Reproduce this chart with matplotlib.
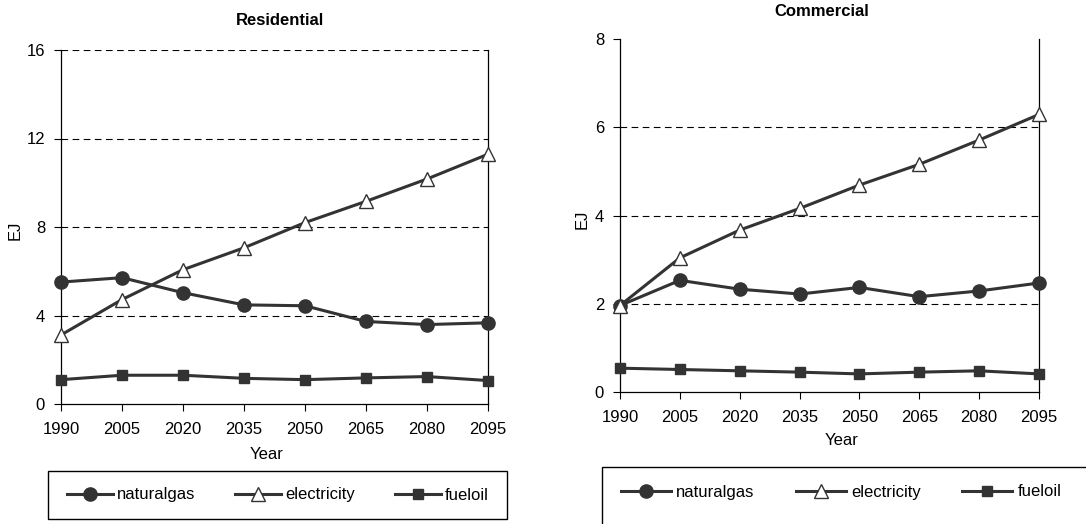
import numpy as np
import matplotlib
matplotlib.use('Agg')
import matplotlib.pyplot as plt
from matplotlib.patches import Rectangle

plt.rcParams['font.family'] = ['Liberation Sans', 'DejaVu Sans']

# data
years = [1990, 2005, 2020, 2035, 2050, 2065, 2080, 2095]

res_naturalgas = [5.51, 5.71, 5.03, 4.48, 4.44, 3.73, 3.59, 3.67]
res_electricity = [3.12, 4.72, 6.07, 7.06, 8.20, 9.16, 10.17, 11.29]
res_fueloil = [1.10, 1.30, 1.30, 1.16, 1.10, 1.18, 1.24, 1.06]

com_naturalgas = [1.96, 2.53, 2.33, 2.22, 2.37, 2.16, 2.29, 2.47]
com_electricity = [1.96, 3.04, 3.67, 4.16, 4.69, 5.16, 5.71, 6.29]
com_fueloil = [0.54, 0.51, 0.48, 0.45, 0.41, 0.45, 0.48, 0.41]

W, H = 1086, 524
fig = plt.figure(figsize=(W / 100, H / 100), dpi=100)

FS = 12
LC = '#333333'


def px_ax(l, r, t, b):
    return [l / W, 1 - b / H, (r - l) / W, (b - t) / H]


def draw(ax, ng, el, fo, ymax, yticks, grid_vals, title, tpos, ylab_x, xlab_pos):
    lines = []
    lines += ax.plot(years, ng, color=LC, lw=2.2, marker='o', ms=9.5,
                     mfc=LC, mec=LC, label='naturalgas', clip_on=False, zorder=3)
    lines += ax.plot(years, el, color=LC, lw=2.2, marker='^', ms=9.5,
                     mfc='white', mec=LC, mew=1, label='electricity', clip_on=False, zorder=3)
    lines += ax.plot(years, fo, color=LC, lw=2.2, marker='s', ms=6.5,
                     mfc=LC, mec=LC, label='fueloil', clip_on=False, zorder=3)
    for g in grid_vals:
        ax.axhline(g, color='black', lw=0.8, ls=(0, (6, 4)), zorder=1)
    ax.set_xlim(years[0], years[-1])
    ax.set_ylim(0, ymax)
    ax.set_xticks(years)
    ax.set_yticks(yticks)
    ax.tick_params(direction='out', length=5, width=0.8, labelsize=FS)
    ax.tick_params(axis='x', pad=8)
    ax.tick_params(axis='y', pad=6.5)
    ax.spines['top'].set_visible(False)
    for s in ['left', 'bottom', 'right']:
        ax.spines[s].set_linewidth(0.9)
    ax.set_ylabel('EJ', fontsize=FS)
    ax.yaxis.set_label_coords(ylab_x, 0.49)
    ax.set_xlabel('Year', fontsize=FS)
    ax.xaxis.set_label_coords(*xlab_pos)
    ax.text(tpos[0], tpos[1], title, transform=ax.transAxes, ha='center',
            va='baseline', fontsize=FS, fontweight='bold')
    return lines


ax1 = fig.add_axes(px_ax(61, 488, 50, 404))
h1 = draw(ax1, res_naturalgas, res_electricity, res_fueloil, 16, [0, 4, 8, 12, 16],
          [4, 8, 12, 16], 'Residential', (0.513, 1.0706), -0.089, (0.482, -0.121))

ax2 = fig.add_axes(px_ax(620, 1039, 39, 392))
h2 = draw(ax2, com_naturalgas, com_electricity, com_fueloil, 8, [0, 2, 4, 6, 8],
          [2, 4, 6], 'Commercial', (0.482, 1.065), -0.072, (0.53, -0.116))

# legend frames
fig.patches.append(Rectangle((48 / W, 1 - 519 / H), 459 / W, 48 / H,
                             transform=fig.transFigure, fill=False, lw=1, ec='black'))
fig.patches.append(Rectangle((602 / W, -0.1), 0.6, 1 - 467 / H + 0.1,
                             transform=fig.transFigure, fill=False, lw=1, ec='black'))

fig.legend(handles=h1, loc='center left', bbox_to_anchor=(67 / W, 1 - 495 / H),
           ncol=3, frameon=False, fontsize=FS, borderpad=0, borderaxespad=0,
           handlelength=2.75, handletextpad=0.25, columnspacing=2.4)
fig.legend(handles=h2, loc='center left', bbox_to_anchor=(621 / W, 1 - 492 / H),
           ncol=3, frameon=False, fontsize=FS, borderpad=0, borderaxespad=0,
           handlelength=3.0, handletextpad=0.3, columnspacing=2.5)

fig.savefig('out.png', dpi=100)
